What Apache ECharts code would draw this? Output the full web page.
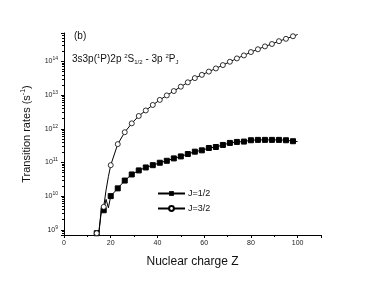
<!DOCTYPE html>
<html><head><meta charset="utf-8">
<script src="https://cdn.jsdelivr.net/npm/echarts@6/dist/echarts.min.js"></script>
<style>html,body{margin:0;padding:0;background:#fff}#c{width:374px;height:286px}</style>
</head><body><div id="c"></div>
<script>
// Nuclear charge Z
const zHalf = [14,15,16,17,18,19,20,23,26,29,32,35,38,41,44,47,50,53,56,59,62,65,68,71,74,77,80,83,86,89,92,95,98,100];
// J=1/2 transition rates (s^-1)
const rateHalf = [7.9e8,8.3e8,4.5e9,3.8e9,8.0e9,4.5e9,1.0e10,1.7e10,2.9e10,4.4e10,5.8e10,7.1e10,8.3e10,9.8e10,1.12e11,1.32e11,1.51e11,1.78e11,2.09e11,2.29e11,2.69e11,2.88e11,3.31e11,3.8e11,4.07e11,4.17e11,4.57e11,4.68e11,4.68e11,4.68e11,4.68e11,4.57e11,4.27e11,4.17e11];
const zThree = [14,15,16,17,18,19,20,23,26,29,32,35,38,41,44,47,50,53,56,59,62,65,68,71,74,77,80,83,86,89,92,95,98,100];
// J=3/2 transition rates (s^-1)
const rateThree = [7.9e8,1.0e9,3.5e9,4.8e9,1.5e10,3.8e10,8.3e10,3.5e11,7.9e11,1.45e12,2.4e12,3.5e12,5.1e12,7.2e12,9.8e12,1.32e13,1.78e13,2.4e13,3.2e13,4.0e13,5.0e13,6.2e13,7.8e13,9.8e13,1.23e14,1.51e14,1.9e14,2.3e14,2.8e14,3.3e14,4.0e14,4.7e14,5.6e14,6.3e14];
const xTicks = [0,20,40,60,80,100];
const seriesNames = ['J=1/2','J=3/2'];

const FONT = 'Liberation Sans, Arial, sans-serif';
function build(zs, vs) {
  return zs.map((z, i) => {
    const marked = (z - 14) % 3 === 0 && z <= 98;
    return marked ? [z, vs[i]] : { value: [z, vs[i]], symbol: 'none' };
  });
}
const chart = echarts.init(document.getElementById('c'), null, {renderer: 'canvas'});
chart.setOption({
  animation: false,
  backgroundColor: '#fff',
  textStyle: {fontFamily: FONT},
  grid: {left: 64, right: 53, top: 33, bottom: 51, containLabel: false},
  xAxis: {
    type: 'value', min: 0, max: 110, interval: 20,
    name: 'Nuclear charge Z', nameLocation: 'middle', nameGap: 21,
    nameTextStyle: {fontSize: 12, color: '#111', fontFamily: FONT},
    axisLine: {lineStyle: {color: '#000', width: 1}},
    axisTick: {length: 3, lineStyle: {color: '#000'}},
    minorTick: {show: true, splitNumber: 2, length: 2, lineStyle: {color: '#000'}},
    splitLine: {show: false},
    axisLabel: {fontSize: 7, color: '#222', margin: 5, fontFamily: FONT,
      formatter: v => xTicks.includes(v) ? String(v) : ''}
  },
  yAxis: {
    type: 'log', logBase: 10, min: 7e8, max: 7e14,
    name: 'Transition rates (s{sup|-1})', nameLocation: 'middle', nameGap: 31,
    nameTextStyle: {fontSize: 11, color: '#111', fontFamily: FONT,
      rich: {sup: {fontSize: 7, verticalAlign: 'top', padding: [0,0,6,0], color: '#111'}}},
    axisLine: {show: true, lineStyle: {color: '#000', width: 1}},
    axisTick: {length: 3, lineStyle: {color: '#000'}},
    minorTick: {show: true, splitNumber: 9, length: 2, lineStyle: {color: '#000'}},
    splitLine: {show: false},
    axisLabel: {
      showMinLabel: false, showMaxLabel: false, margin: 6,
      color: '#222', fontSize: 7, fontFamily: FONT,
      formatter: v => {
        const e = Math.round(Math.log10(v));
        if (Math.abs(Math.log10(v) - e) > 0.01) return '';
        return '10{sup|' + e + '}';
      },
      rich: {sup: {fontSize: 5, verticalAlign: 'top', padding: [0,0,5,0], color: '#222'}}
    }
  },
  legend: {
    orient: 'vertical', left: 157, top: 189, padding: 0, itemWidth: 27, itemHeight: 6, itemGap: 6,
    textStyle: {fontSize: 9, color: '#111', fontFamily: FONT, padding: [0,0,0,-2]},
    data: seriesNames
  },
  graphic: [
    {type: 'text', left: 74, top: 31, style: {text: '(b)', fontSize: 10, fill: '#111', fontFamily: FONT}},
    {type: 'text', left: 72, top: 53, style: {
      text: '3s3p({sup|1}P)2p {sup|2}S{sub|1/2} - 3p {sup|2}P{sub|J}',
      fontSize: 10, fill: '#111', fontFamily: FONT,
      rich: {
        sup: {fontSize: 6, verticalAlign: 'top', padding: [0,0,6,0], fill: '#111'},
        sub: {fontSize: 6, verticalAlign: 'bottom', padding: [5,0,0,0], fill: '#111'}
      }
    }}
  ],
  series: [
    {name: seriesNames[0], type: 'line', data: build(zHalf, rateHalf),
     symbol: 'rect', symbolSize: 5, showAllSymbol: true,
     lineStyle: {color: '#000', width: 1}, itemStyle: {color: '#000', borderColor: '#000'}},
    {name: seriesNames[1], type: 'line', data: build(zThree, rateThree),
     symbol: 'circle', symbolSize: 5, showAllSymbol: true,
     lineStyle: {color: '#000', width: 1}, itemStyle: {color: '#fff', borderColor: '#000', borderWidth: 0.8}}
  ]
});
</script></body></html>
